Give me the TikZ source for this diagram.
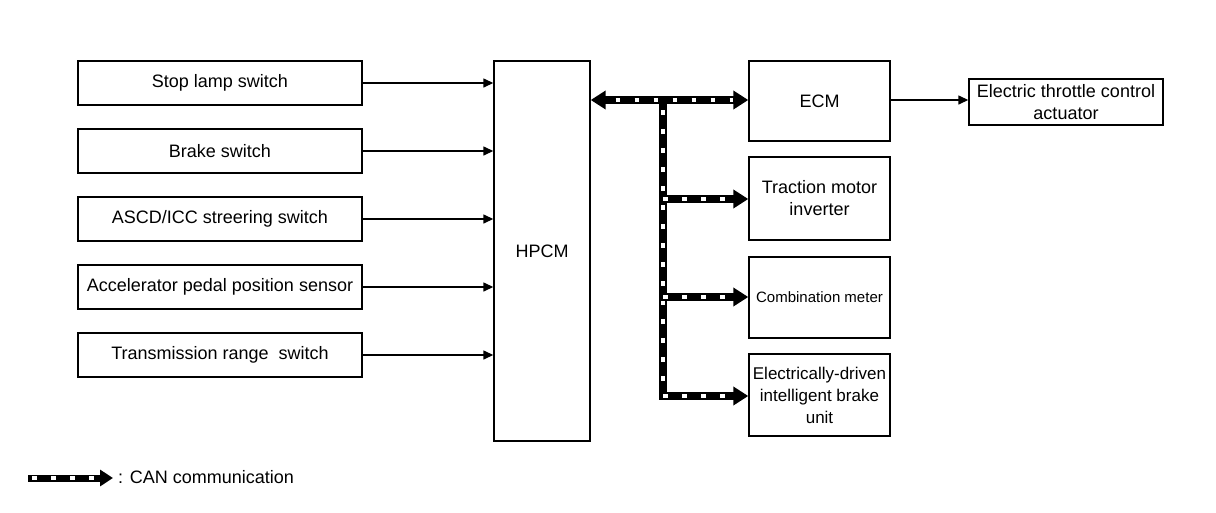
\documentclass[tikz,border=0pt]{standalone}
\usepackage{fontspec}
\setmainfont{Liberation Sans}
\usetikzlibrary{arrows.meta}
\begin{document}
\begin{tikzpicture}[x=1pt,y=-1pt,
  box/.style={draw, line width=1.4pt, inner sep=0pt, align=center,
    font=\fontsize{18pt}{22pt}\selectfont},
  leftbox/.style={box, minimum width=284pt, minimum height=44pt},
  rightbox/.style={box, minimum width=141pt},
  sig/.style={line width=1.4pt, -{Triangle[length=10pt,width=9pt]}},
  canbase/.style={line width=8pt},
  can/.style={canbase, -{Triangle[length=15pt,width=18pt]},
    postaction={draw=white, line width=3.2pt, -, dash pattern=on 4.5pt off 14.5pt, dash phase=-4pt, shorten >=15pt}},
  canboth/.style={canbase, {Triangle[length=15pt,width=18pt]}-{Triangle[length=15pt,width=18pt]},
    postaction={draw=white, line width=3.2pt, -, dash pattern=on 4.5pt off 14.5pt, dash phase=-10pt, shorten >=15pt, shorten <=15pt}},
  cantrunk/.style={canbase, line cap=butt,
    postaction={draw=white, line width=3.2pt, dash pattern=on 4.5pt off 14.5pt, dash phase=-6pt}}
]
\useasboundingbox (0,0) rectangle (1216,512);

\node[leftbox] (stop) at (220,83) {Stop lamp switch};
\node[leftbox] (brake) at (220,151) {Brake switch};
\node[leftbox] (ascd) at (220,219) {ASCD/ICC streering switch};
\node[leftbox] (accel) at (220,287) {Accelerator pedal position sensor};
\node[leftbox] (trans) at (220,355) {Transmission range~ switch};

\node[box, minimum width=96pt, minimum height=380pt] (hpcm) at (542,251) {HPCM};

\node[rightbox, minimum height=80pt] (ecm) at (819.5,101) {ECM};
\node[rightbox, minimum height=83pt] (tmi) at (819.5,198.5) {Traction motor\\inverter};
\node[rightbox, minimum height=81pt, font=\fontsize{15pt}{18pt}\selectfont] (cm) at (819.5,297.5) {Combination meter};
\node[rightbox, minimum height=82pt, font=\fontsize{17pt}{22pt}\selectfont] (edib) at (819.5,395) {Electrically-driven\\intelligent brake\\unit};

\node[box, minimum width=194pt, minimum height=46pt] (etca) at (1066,102) {Electric throttle control\\actuator};

\foreach \n in {stop,brake,ascd,accel,trans}
  \draw[sig] (\n.east) -- (\n.east -| hpcm.west);

\draw[sig] (ecm.east |- 0,100) -- (etca.west |- 0,100);

% CAN
\coordinate (top) at (663,100);
\coordinate (j1) at (663,199);
\coordinate (j2) at (663,297);
\coordinate (j3) at (663,396);
\draw[canboth] (hpcm.east |- top) -- (ecm.west |- top);
\draw[cantrunk] ([yshift=-4pt]top) -- ([yshift=4pt]j3);
\draw[can] ([xshift=-4pt]j1) -- (tmi.west |- j1);
\draw[can] ([xshift=-4pt]j2) -- (cm.west |- j2);
\draw[can] ([xshift=-4pt]j3) -- (edib.west |- j3);

% legend
\coordinate (legA) at (28,478);
\coordinate (legB) at (113,478);
\draw[can, line width=7pt, -{Triangle[length=13pt,width=16pt]}] (legA) -- (legB);
\node[anchor=west, font=\fontsize{18pt}{22pt}\selectfont, inner sep=0pt] (legt) at (118,477) {: CAN communication};
\end{tikzpicture}
\end{document}
